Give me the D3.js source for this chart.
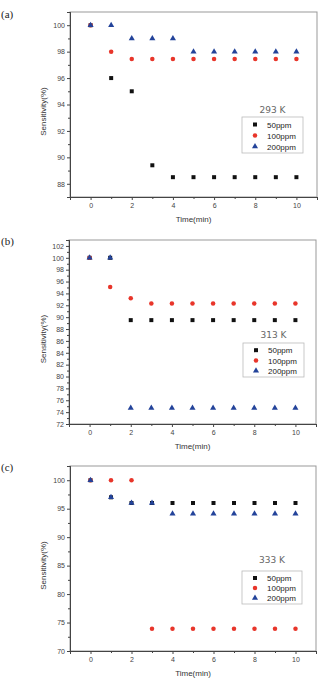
<!DOCTYPE html>
<html>
<head>
<meta charset="utf-8">
<script src="https://cdn.jsdelivr.net/npm/d3@7"></script>
<style>
  body { margin: 0; background: #fff; }
  svg { display: block; }
  .tick text { font-family: Arial, "Liberation Sans", sans-serif; }
</style>
</head>
<body>
<div id="chart"></div>
<script>
// time axis (min)
var times = [0, 1, 2, 3, 4, 5, 6, 7, 8, 9, 10];
var seriesNames = ['50ppm', '100ppm', '200ppm'];

// (a) 293 K
var a50  = [100, 96, 95, 89.4, 88.5, 88.5, 88.5, 88.5, 88.5, 88.5, 88.5];
var a100 = [100, 98, 97.45, 97.45, 97.45, 97.45, 97.45, 97.45, 97.45, 97.45, 97.45];
var a200 = [100, 100, 99, 99, 99, 98, 98, 98, 98, 98, 98];
var aTicks = [88, 90, 92, 94, 96, 98, 100];

// (b) 313 K
var b50  = [100, 100, 89.5, 89.5, 89.5, 89.5, 89.5, 89.5, 89.5, 89.5, 89.5];
var b100 = [100, 95.1, 93.2, 92.3, 92.3, 92.3, 92.3, 92.3, 92.3, 92.3, 92.3];
var b200 = [100, 100, 74.7, 74.7, 74.7, 74.7, 74.7, 74.7, 74.7, 74.7, 74.7];
var bTicks = [72, 74, 76, 78, 80, 82, 84, 86, 88, 90, 92, 94, 96, 98, 100, 102];

// (c) 333 K
var c50  = [100, 97, 96, 96, 96, 96, 96, 96, 96, 96, 96];
var c100 = [100, 100, 100, 73.9, 73.9, 73.9, 73.9, 73.9, 73.9, 73.9, 73.9];
var c200 = [100, 97, 96, 96, 94.1, 94.1, 94.1, 94.1, 94.1, 94.1, 94.1];
var cTicks = [70, 75, 80, 85, 90, 95, 100];

var xTicks = [0, 2, 4, 6, 8, 10];

var colors = ['#111111', '#e8352a', '#23439a'];
var shapes = [d3.symbolSquare, d3.symbolCircle, d3.symbolTriangle];
var sizes = [16, 16, 16];

var svg = d3.select('#chart').append('svg')
    .attr('width', 320)
    .attr('height', 681);

var panels = [
  { letter: '(a)', temp: '293 K', series: [a50, a100, a200], ticks: aTicks, minor: 1,
    yDomain: [87, 101], box: { l: 70, r: 317, t: 12, b: 197 },
    legend: { x: 242, y: 117, w: 61, h: 36 }, tempY: 113 },
  { letter: '(b)', temp: '313 K', series: [b50, b100, b200], ticks: bTicks, minor: 1,
    yDomain: [72, 103], box: { l: 69, r: 316, t: 240, b: 424 },
    legend: { x: 243, y: 343, w: 61, h: 34 }, tempY: 338 },
  { letter: '(c)', temp: '333 K', series: [c50, c100, c200], ticks: cTicks, minor: 2.5,
    yDomain: [70, 102.5], box: { l: 70, r: 316, t: 466, b: 651 },
    legend: { x: 242, y: 571, w: 60, h: 33 }, tempY: 563 }
];

panels.forEach(function(p) {
  var box = p.box;
  var x = d3.scaleLinear().domain([-1, 11]).range([box.l, box.r]);
  var y = d3.scaleLinear().domain(p.yDomain).range([box.b, box.t]);
  var g = svg.append('g');

  // frame
  g.append('rect')
      .attr('x', box.l).attr('y', box.t)
      .attr('width', box.r - box.l).attr('height', box.b - box.t)
      .style('fill', 'none')
      .attr('stroke', '#999')
      .attr('stroke-width', 1);

  // minor ticks
  var yMinor = d3.range(p.yDomain[0], p.yDomain[1], p.minor).filter(function(v) {
    return p.ticks.indexOf(v) < 0;
  });
  var xMinor = [-1, 1, 3, 5, 7, 9, 11];

  var yAxis = d3.axisLeft(y).tickValues(p.ticks).tickSize(3).tickPadding(2);
  var yAxisMinor = d3.axisLeft(y).tickValues(yMinor).tickSize(2).tickFormat('');
  var xAxis = d3.axisBottom(x).tickValues(xTicks).tickSize(3).tickPadding(3);
  var xAxisMinor = d3.axisBottom(x).tickValues(xMinor).tickSize(2).tickFormat('');

  [yAxis, yAxisMinor].forEach(function(ax) {
    g.append('g').attr('transform', 'translate(' + box.l + ',0)').call(ax);
  });
  [xAxis, xAxisMinor].forEach(function(ax) {
    g.append('g').attr('transform', 'translate(0,' + box.b + ')').call(ax);
  });
  g.selectAll('.domain').attr('stroke', '#444');
  g.selectAll('.tick line').attr('stroke', '#444');
  g.selectAll('.tick text').style('font-size', '7px').attr('fill', '#444');

  // points
  p.series.forEach(function(vals, si) {
    g.append('g').selectAll('path')
        .data(vals)
      .enter().append('path')
        .attr('transform', function(d, i) {
          return 'translate(' + x(times[i]) + ',' + y(d) + ')';
        })
        .attr('d', d3.symbol().type(shapes[si]).size(sizes[si]))
        .style('fill', colors[si]);
  });

  // axis titles
  g.append('text')
      .attr('x', (box.l + box.r) / 2)
      .attr('y', box.b + 25)
      .attr('text-anchor', 'middle')
      .style('font-family', 'Arial, "Liberation Sans", sans-serif')
      .style('font-size', '8px')
      .attr('fill', '#333')
      .text('Time(min)');

  var cy = (box.t + box.b) / 2 + 7;
  g.append('text')
      .attr('transform', 'translate(46,' + cy + ') rotate(-90)')
      .attr('text-anchor', 'middle')
      .style('font-family', 'Arial, "Liberation Sans", sans-serif')
      .style('font-size', '8px')
      .attr('fill', '#333')
      .text('Sensitivity(%)');

  // panel letter
  g.append('text')
      .attr('x', 1)
      .attr('y', box.t + (p.letter == '(a)' ? 6 : 5))
      .style('font-family', '"Liberation Serif", "DejaVu Serif", serif')
      .style('font-size', '11px')
      .attr('fill', '#222')
      .text(p.letter);

  // temperature label
  g.append('text')
      .attr('x', p.legend.x + p.legend.w / 2)
      .attr('y', p.tempY)
      .attr('text-anchor', 'middle')
      .style('font-family', '"DejaVu Sans", sans-serif')
      .style('font-size', '9px')
      .attr('fill', '#666')
      .text(p.temp);

  // legend
  var lg = p.legend;
  g.append('rect')
      .attr('x', lg.x).attr('y', lg.y)
      .attr('width', lg.w).attr('height', lg.h)
      .style('fill', '#fff')
      .attr('stroke', '#bbb')
      .attr('stroke-width', 0.8);
  var rowH = (lg.h - 3) / 3;
  seriesNames.forEach(function(name, si) {
    var ry = lg.y + 2 + rowH * (si + 0.5);
    g.append('path')
        .attr('transform', 'translate(' + (lg.x + 13) + ',' + ry + ')')
        .attr('d', d3.symbol().type(shapes[si]).size(sizes[si]))
        .style('fill', colors[si]);
    g.append('text')
        .attr('x', lg.x + 25)
        .attr('y', ry + 3)
        .style('font-family', 'Arial, "Liberation Sans", sans-serif')
        .style('font-size', '8px')
        .attr('fill', '#222')
        .text(name);
  });
});
</script>
</body>
</html>
